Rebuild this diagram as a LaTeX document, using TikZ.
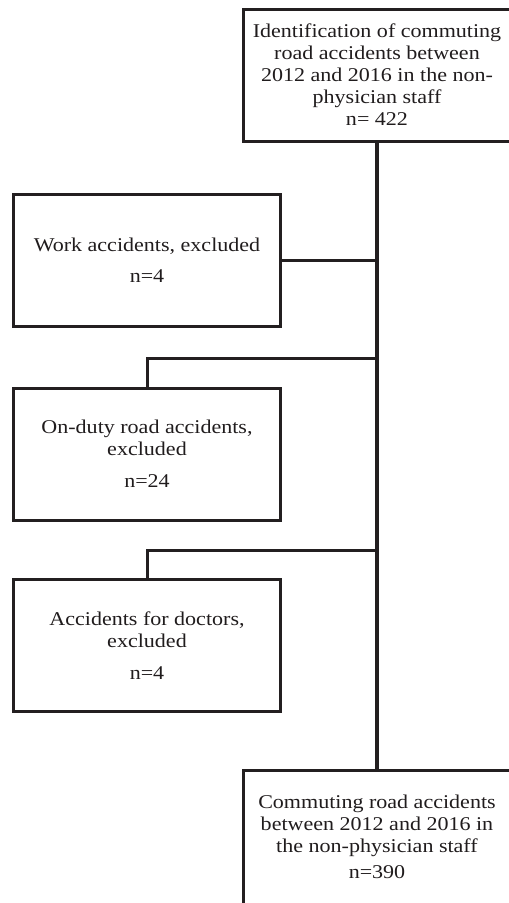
\documentclass[tikz,border=0pt]{standalone}
\usepackage{fontspec}
\setmainfont{Liberation Serif}[FakeStretch=1.13]
\definecolor{inkline}{HTML}{231F20}
\tikzset{
  flowbox/.style={draw=inkline, line width=3pt, rectangle, align=center,
    inner sep=0pt, minimum width=267pt, minimum height=132pt,
    text=inkline!90!black, font=\fontsize{19.5}{22}\selectfont},
  link/.style={draw=inkline, line width=3pt},
  trunkline/.style={draw=inkline, line width=3.6pt}
}
\begin{document}
\begin{tikzpicture}[x=1pt, y=-1pt, line join=miter]
  % Page frame (pixels of the original figure, y pointing down)
  \def\W{509} \def\H{903}
  \useasboundingbox (0,0) rectangle (\W,\H);
  \clip (0,0) rectangle (\W,\H);

  % Main column and side column
  \def\xmain{377} \def\xside{147}

  % Boxes
  \node[flowbox] (ident) at (\xmain,75)
    {Identification of commuting\\ road accidents between\\
     2012 and 2016 in the non-\\ physician staff\\ n= 422};
  \node[flowbox] (work) at (\xside,260.5)
    {Work accidents, excluded\\[9pt] n=4};
  \node[flowbox] (onduty) at (\xside,454)
    {On-duty road accidents,\\ excluded\\[10pt] n=24};
  \node[flowbox] (doctors) at (\xside,645.5)
    {Accidents for doctors,\\ excluded\\[10pt] n=4};
  \node[flowbox, minimum height=158pt] (final) at (\xmain,849)
    {Commuting road accidents\\ between 2012 and 2016 in\\
     the non-physician staff\\[4pt] n=390\\[2pt]};

  % Junctions on the main line
  \coordinate (jonduty) at (\xmain,358);
  \coordinate (jdoctors) at (\xmain,550);

  % Main line
  \draw[trunkline] (ident.south) -- (final.north);

  % Exclusions
  \draw[link] (work.east) -- (work.east -| ident.south);
  \draw[link] (onduty.north) |- (jonduty);
  \draw[link] (doctors.north) |- (jdoctors);
\end{tikzpicture}
\end{document}
